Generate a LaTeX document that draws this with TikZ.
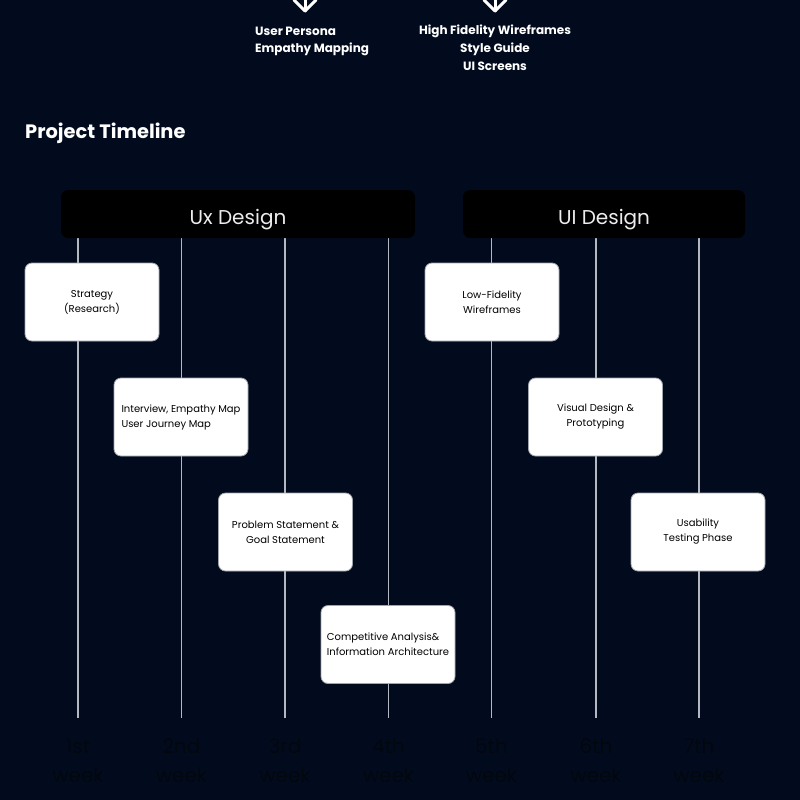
\documentclass[tikz,border=0pt]{standalone}
\usepackage{fontspec}
\setmainfont{Poppins}
\usetikzlibrary{positioning}
\definecolor{bgnavy}{HTML}{020B1E}
\definecolor{hdrblack}{HTML}{000000}
\definecolor{linegray}{HTML}{B4B8C0}
\definecolor{boxedge}{HTML}{A0A4AC}
\definecolor{weekcol}{HTML}{03070E}
\definecolor{hdrtext}{HTML}{EDEDED}
\tikzset{
  header/.style={fill=hdrblack, rounded corners=7pt, inner sep=0pt, text=hdrtext,
    text height=21pt, text depth=1pt,
    font=\fontsize{20}{24}\selectfont},
  taskbox/.style={fill=white, draw=boxedge, line width=0.8pt, rounded corners=7pt,
    minimum width=134pt, minimum height=78pt, inner sep=0pt, text=black,
    font=\fontsize{10}{15}\selectfont},
  weeklabel/.style={text=weekcol, align=center, inner sep=0pt,
    font=\fontsize{20}{29}\selectfont},
  gridline/.style={draw=linegray, line width=1.1pt},
  toptext/.style={text=white, inner sep=0pt, font=\bfseries\fontsize{12}{17.5}\selectfont},
  downarrow/.style={draw=white, line width=3pt, line cap=round, line join=round},
}
\begin{document}
\begin{tikzpicture}[x=1pt, y=-1pt]
\fill[bgnavy] (0,0) rectangle (800,800);
\useasboundingbox (0,0) rectangle (800,800);

% top arrows (partially cut off)
\coordinate (a1s) at (305,-6);
\coordinate (a1t) at (305,11);
\coordinate (a1l) at (294,0);
\coordinate (a1r) at (316,0);
\draw[downarrow] (a1s) -- (a1t);
\draw[downarrow] (a1l) -- (a1t) -- (a1r);
\coordinate (a2s) at (495,-6);
\coordinate (a2t) at (495,11);
\coordinate (a2l) at (484,0);
\coordinate (a2r) at (506,0);
\draw[downarrow] (a2s) -- (a2t);
\draw[downarrow] (a2l) -- (a2t) -- (a2r);

% top texts
\node[toptext, align=left, anchor=west] (persona) at (255,41.5) {User Persona\\Empathy Mapping};
\node[toptext, align=center, font=\bfseries\fontsize{12}{17.8}\selectfont] (hifi) at (495,48) {High Fidelity Wireframes\\Style Guide\\UI Screens};

% title
\node[text=white, anchor=west, inner sep=0pt, font=\bfseries\fontsize{19.4}{22}\selectfont] (title) at (25,133) {Project Timeline};

% vertical lines
\foreach \i/\x in {1/78,2/181.5,3/285,4/388.5,5/491.5,6/596,7/699}{
  \coordinate (t\i) at (\x,238);
  \coordinate (b\i) at (\x,718);
  \draw[gridline] (t\i) -- (b\i);
}

% headers
\node[header, minimum width=354pt, minimum height=48pt] (ux) at (238,214) {Ux Design};
\node[header, minimum width=282pt, minimum height=48pt] (ui) at (604,214) {UI Design};

% task boxes
\node[taskbox, align=center] (s1) at (92,302) {Strategy\\(Research)};
\node[taskbox, align=left] (s2) at (181,417) {Interview, Empathy Map\\User Journey Map};
\node[taskbox, align=center] (s3) at (285.5,532) {Problem Statement \&\\Goal Statement};
\node[taskbox, align=left] (s4) at (388,644.5) {Competitive Analysis\&\\Information Architecture};
\node[taskbox, align=center] (s5) at (492,302) {Low-Fidelity\\Wireframes};
\node[taskbox, align=center] (s6) at (595.5,417) {Visual Design \&\\Prototyping};
\node[taskbox, align=center] (s7) at (698,532) {Usability\\Testing Phase};

% week labels
\node[weeklabel] (w1) at (78,761) {1st\\week};
\node[weeklabel] (w2) at (181.5,761) {2nd\\week};
\node[weeklabel] (w3) at (285,761) {3rd\\week};
\node[weeklabel] (w4) at (388.5,761) {4th\\week};
\node[weeklabel] (w5) at (491.5,761) {5th\\week};
\node[weeklabel] (w6) at (596,761) {6th\\week};
\node[weeklabel] (w7) at (699,761) {7th\\week};
\end{tikzpicture}
\end{document}
